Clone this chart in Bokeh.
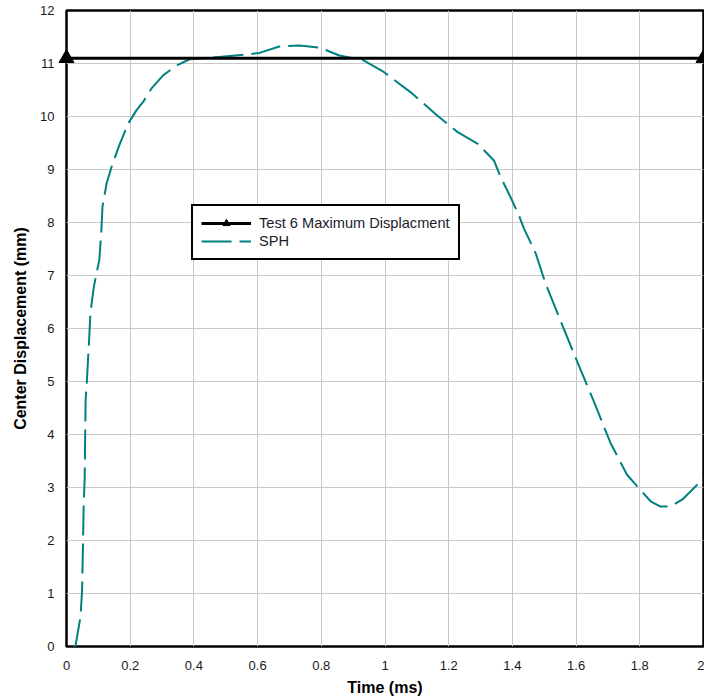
from bokeh.plotting import figure
from bokeh.models import Legend, LegendItem, Range1d, FixedTicker
from bokeh.embed import file_html
from bokeh.resources import INLINE

# Test 6 measured maximum centre displacement (mm)
test_max_time = [0.0, 2.0]
test_max_disp = [11.1, 11.1]

# SPH simulation: centre displacement history
sph_time = [0.020, 0.028, 0.044, 0.049, 0.052, 0.054, 0.057, 0.060, 0.063, 0.067,
            0.071, 0.075, 0.086, 0.094, 0.103, 0.109, 0.113, 0.126, 0.141, 0.151,
            0.166, 0.194, 0.220, 0.240, 0.267, 0.304, 0.345, 0.386, 0.470, 0.565,
            0.606, 0.668, 0.732, 0.795, 0.857, 0.933, 0.996, 1.080, 1.164, 1.227,
            1.290, 1.342, 1.363, 1.394, 1.420, 1.436, 1.473, 1.504, 1.561, 1.608,
            1.656, 1.708, 1.760, 1.792, 1.834, 1.865, 1.896, 1.933, 1.970, 2.000]
sph_disp = [0.00, 0.00, 0.56, 1.07, 2.00, 2.70, 3.15, 4.65, 4.90, 5.35,
            5.78, 6.29, 6.79, 7.04, 7.29, 7.80, 8.30, 8.74, 9.04, 9.21,
            9.46, 9.87, 10.12, 10.27, 10.53, 10.78, 10.96, 11.08, 11.12, 11.17,
            11.20, 11.32, 11.34, 11.30, 11.15, 11.06, 10.84, 10.46, 10.02, 9.71,
            9.49, 9.17, 8.86, 8.48, 8.14, 7.89, 7.42, 6.85, 6.00, 5.31,
            4.62, 3.84, 3.24, 3.02, 2.74, 2.64, 2.64, 2.77, 2.99, 3.17]

x_ticks = [0, 0.2, 0.4, 0.6, 0.8, 1.0, 1.2, 1.4, 1.6, 1.8, 2.0]
y_ticks = list(range(0, 13))

FONT = "Liberation Sans"

p = figure(width=704, height=698, output_backend="svg", toolbar_location=None,
           x_range=Range1d(0, 2), y_range=Range1d(0, 12),
           min_border_left=66, min_border_right=1, min_border_top=10,
           min_border_bottom=51)
p.background_fill_color = "white"
p.border_fill_color = "white"
p.outline_line_color = "black"
p.outline_line_width = 2.5

for ax in (p.xaxis, p.yaxis):
    ax.axis_line_color = None
    ax.major_tick_line_color = None
    ax.minor_tick_line_color = None
    ax.major_label_text_font = FONT
    ax.major_label_text_font_size = "13px"
    ax.major_label_text_color = "#1a1a1a"
    ax.axis_label_text_font = FONT
    ax.axis_label_text_font_style = "bold"
    ax.axis_label_text_font_size = "16px"
    ax.axis_label_text_color = "black"

p.xaxis.ticker = FixedTicker(ticks=x_ticks)
p.yaxis.ticker = FixedTicker(ticks=y_ticks)
p.xaxis.major_label_overrides = {0: "0", 1.0: "1", 2.0: "2"}
p.xaxis.major_label_standoff = 8
p.yaxis.major_label_standoff = 6
p.xaxis.axis_label = "Time (ms)"
p.yaxis.axis_label = "Center Displacement (mm)"
p.xaxis.axis_label_standoff = 6
p.yaxis.axis_label_standoff = 8

p.xgrid.ticker = FixedTicker(ticks=x_ticks)
p.ygrid.ticker = FixedTicker(ticks=y_ticks)
for g in (p.xgrid, p.ygrid):
    g.grid_line_color = "#c8c8c8"
    g.grid_line_width = 1

sph = p.line(sph_time, sph_disp, line_color="#008080", line_width=2,
             line_dash="30 8")

test_line = p.line(test_max_time, test_max_disp, line_color="black", line_width=3)
test_mark = p.scatter(test_max_time, test_max_disp, marker="triangle", size=15,
                      fill_color="black", line_color="black", level="overlay")

legend = Legend(items=[LegendItem(label="Test 6 Maximum Displacment",
                                  renderers=[test_line, test_mark]),
                       LegendItem(label="SPH", renderers=[sph])],
                location=(125, 386))
legend.label_text_font = FONT
legend.label_text_font_size = "14.6px"
legend.label_text_color = "#1a1a2a"
legend.glyph_width = 50
legend.glyph_height = 18
legend.label_height = 18
legend.label_standoff = 8
legend.spacing = 0
legend.padding = 8
legend.margin = 0
legend.border_line_color = "black"
legend.border_line_alpha = 1.0
legend.border_line_width = 2
legend.background_fill_alpha = 1
p.add_layout(legend)

open("out.html", "w").write(file_html(p, INLINE))
